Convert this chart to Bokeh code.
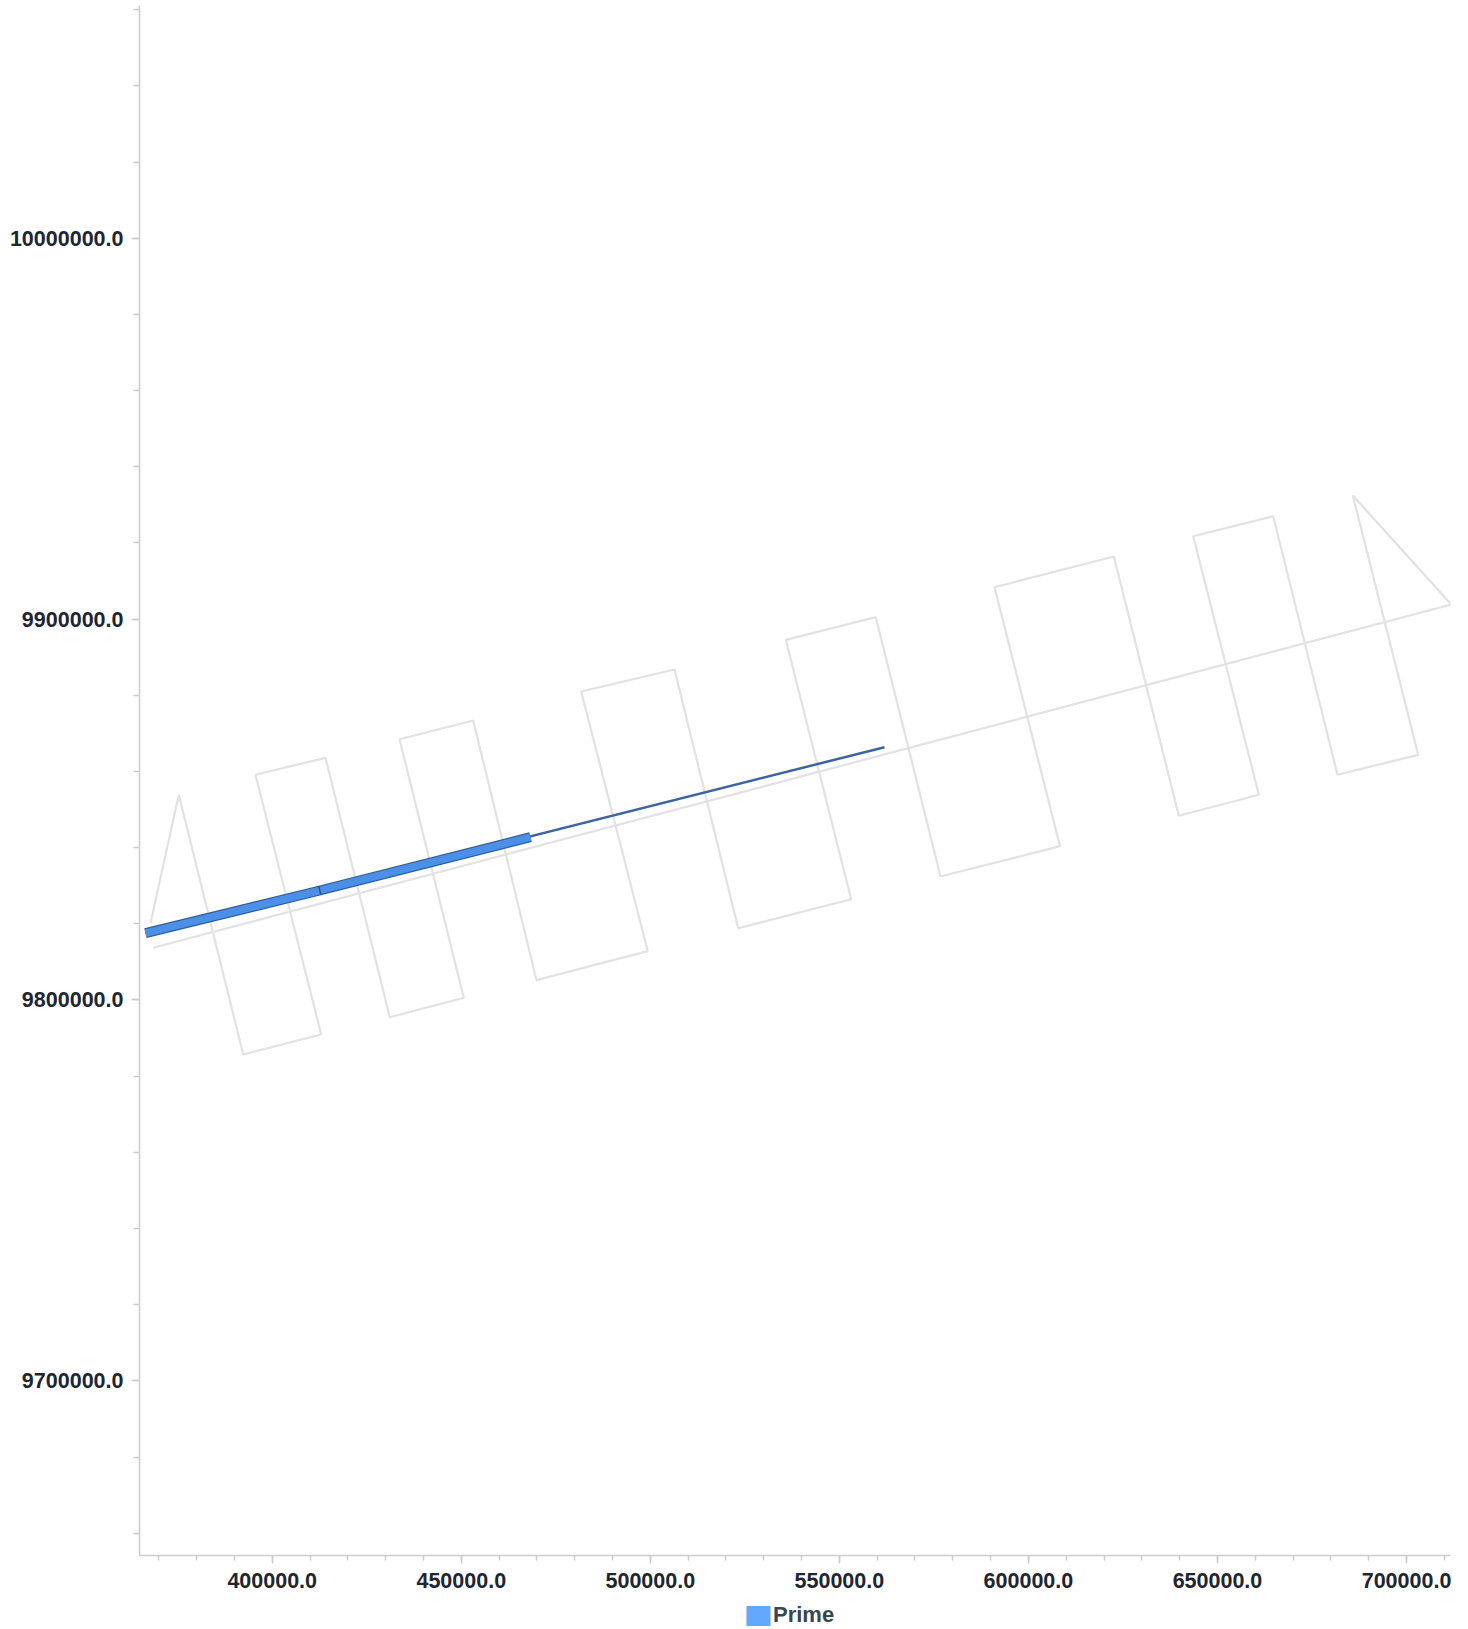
from bokeh.plotting import figure
from bokeh.layouts import column
from bokeh.models import Range1d, SingleIntervalTicker, PrintfTickFormatter, Legend, LegendItem
from bokeh.embed import file_html
from bokeh.resources import INLINE

# ---- data (easting / northing) ----
survey_x = [367800, 375300, 392330, 412960, 395580, 414100, 431100, 450670,
            433670, 453160, 469900, 499310, 481720, 506400, 523250, 553130,
            535840, 559640, 576750, 608360, 591030, 622590, 639780, 660940,
            643590, 664740, 681750, 703090, 685800, 711820, 368530]
survey_y = [9820160, 9853870, 9785690, 9790940, 9859120, 9863580, 9795480, 9800580,
            9868470, 9873380, 9805200, 9812840, 9880990, 9886770, 9818850, 9826460,
            9894560, 9900500, 9832420, 9840380, 9908370, 9916430, 9848360, 9853870,
            9921760, 9927010, 9859120, 9864370, 9932450, 9903830, 9813700]

well_x = [366490, 561940]
well_y = [9817540, 9866370]

prime_x = [[366490, 412590], [412590, 468320]]
prime_y = [[9817540, 9828750], [9828750, 9842740]]
prime_split_x = [412590]
prime_split_y = [9828750]

legend_label = "Prime"

x_range = (364900, 711630)
y_range = (9654160, 10061090)

lab_font = "Liberation Sans"
lab_color = "#1e2631"

# ---- main figure ----
p = figure(width=1460, height=1597, output_backend="svg", toolbar_location=None,
           x_range=Range1d(*x_range), y_range=Range1d(*y_range),
           min_border_left=139, min_border_right=10, min_border_top=5,
           min_border_bottom=42)
p.outline_line_color = None
p.xgrid.visible = False
p.ygrid.visible = False

p.line(survey_x, survey_y, line_color="#e2e2e2", line_width=2.2)
p.line(well_x, well_y, line_color="#3b64a6", line_width=2.5)
p.multi_line(prime_x, prime_y, line_color="#2f5e9f", line_width=10, line_cap="butt")
p.multi_line(prime_x, prime_y, line_color="#4a90e6", line_width=7.5, line_cap="butt")
p.scatter(prime_split_x, prime_split_y, marker="dash", size=9, angle=1.817,
          line_color="#2a4f85", line_width=1.5)

for ax in (p.xaxis[0], p.yaxis[0]):
    ax.axis_line_color = "#cccccc"
    ax.axis_line_width = 1.5
    ax.major_tick_line_color = "#cccccc"
    ax.minor_tick_line_color = "#cccccc"
    ax.major_tick_line_width = 1.5
    ax.minor_tick_line_width = 1.5
    ax.major_tick_out = 8
    ax.major_tick_in = 0
    ax.minor_tick_in = 0
    ax.major_label_text_font = lab_font
    ax.major_label_text_font_style = "bold"
    ax.major_label_text_font_size = "21.5px"
    ax.major_label_text_color = lab_color
    ax.formatter = PrintfTickFormatter(format="%.1f")

p.xaxis[0].ticker = SingleIntervalTicker(interval=50000, num_minor_ticks=5)
p.yaxis[0].ticker = SingleIntervalTicker(interval=100000, num_minor_ticks=5)
p.xaxis[0].minor_tick_out = 5
p.yaxis[0].minor_tick_out = 6
p.xaxis[0].major_label_standoff = 9
p.yaxis[0].major_label_standoff = 8

# ---- legend strip below the chart ----
q = figure(width=1460, height=31, output_backend="svg", toolbar_location=None,
           x_range=Range1d(0, 1), y_range=Range1d(0, 1),
           min_border_left=139, min_border_right=10, min_border_top=5,
           min_border_bottom=0)
q.outline_line_color = None
q.axis.visible = False
q.xgrid.visible = False
q.ygrid.visible = False

nan = float("nan")
leg_r = q.quad(left=[nan], right=[nan], top=[nan], bottom=[nan],
               fill_color="#62a8ff", line_color=None)

legend = Legend(items=[LegendItem(label=legend_label, renderers=[leg_r])],
                location=(604, 0), orientation="horizontal",
                glyph_width=30, glyph_height=25, label_standoff=0,
                label_text_font=lab_font, label_text_font_style="bold",
                label_text_font_size="22px", label_text_color="#37474f",
                label_height=20, padding=0, margin=0, spacing=0,
                border_line_color=None, background_fill_alpha=0)
q.add_layout(legend)

layout = column(p, q, spacing=0)
open("out.html", "w").write(file_html(layout, INLINE))
